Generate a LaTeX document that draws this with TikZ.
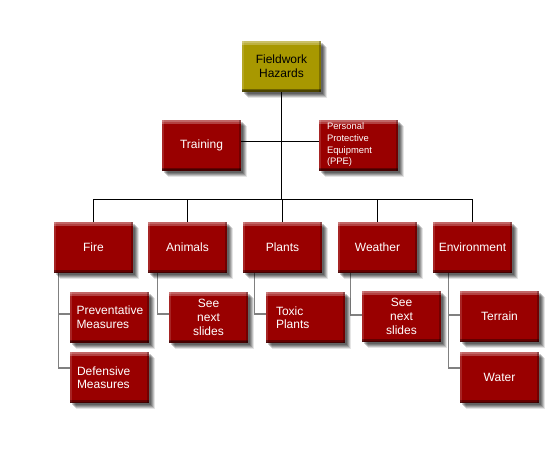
\documentclass[tikz,border=0pt]{standalone}
\usepackage{fontspec}
\setmainfont{Liberation Sans}
\usetikzlibrary{shadows}
\definecolor{boxred}{RGB}{153,0,0}
\definecolor{boxolive}{RGB}{168,152,0}
\definecolor{subgray}{RGB}{128,128,128}
\pgfdeclarelayer{background}
\pgfsetlayers{background,main}
\tikzset{
  bevelbox/.style={rectangle, minimum width=79pt, minimum height=51pt, inner sep=0pt,
    fill=boxred, text=white, font=\fontsize{12}{13.5}\selectfont, align=center,
    general shadow={fill=black,opacity=.2,shadow xshift=2pt,shadow yshift=-2pt},
    general shadow={fill=black,opacity=.2,shadow xshift=3pt,shadow yshift=-3pt},
    general shadow={fill=black,opacity=.18,shadow xshift=4pt,shadow yshift=-4pt},
    general shadow={fill=black,opacity=.16,shadow xshift=5pt,shadow yshift=-5pt},
    general shadow={fill=black,opacity=.10,shadow xshift=6pt,shadow yshift=-6pt},
    path picture={
      \fill[white,opacity=.25] (path picture bounding box.north west) rectangle ([yshift=-4pt]path picture bounding box.north east);
      \fill[white,opacity=.2] (path picture bounding box.north west) rectangle ([yshift=-2pt]path picture bounding box.north east);
      \fill[white,opacity=.14] (path picture bounding box.north west) rectangle ([xshift=2pt]path picture bounding box.south west);
      \fill[black,opacity=.25] ([xshift=-2pt]path picture bounding box.north east) rectangle (path picture bounding box.south east);
      \fill[black,opacity=.35] ([yshift=3pt]path picture bounding box.south west) rectangle (path picture bounding box.south east);
      \fill[black,opacity=.3] ([yshift=1.5pt]path picture bounding box.south west) rectangle (path picture bounding box.south east);
    }},
  rootbox/.style={bevelbox, fill=boxolive, text=black},
  leftbox/.style={bevelbox, align=left, text width=#1},
  smallbox/.style={bevelbox, align=left, text width=63pt, font=\fontsize{9.4}{11.7}\selectfont},
  mainline/.style={draw=black, line width=1pt},
  subline/.style={draw=subgray, line width=1.3pt},
}
\begin{document}
\begin{tikzpicture}[x=1pt, y=-1pt]
\useasboundingbox (0,0) rectangle (550,450);
\begin{pgfonlayer}{background}
\fill[white] (0,0) rectangle (550,450);
\end{pgfonlayer}

\node[rootbox] (fh) at (281.5,66) {Fieldwork\\Hazards};
\node[bevelbox] (train) at (201.5,145) {Training};
\node[smallbox] (ppe) at (358.5,145) {Personal\\Protective\\Equipment\\(PPE)};

\node[bevelbox] (fire) at (93.5,247.5) {Fire};
\node[bevelbox] (animals) at (187.5,247.5) {Animals};
\node[bevelbox] (plants) at (282.5,247.5) {Plants};
\node[bevelbox] (weather) at (377.5,247.5) {Weather};
\node[bevelbox] (env) at (472.5,247.5) {Environment};

\node[leftbox=66pt] (prev) at (109.5,317) {Preventative\\Measures};
\node[leftbox=65pt] (def) at (109.5,377.5) {Defensive\\Measures};
\node[bevelbox, font=\fontsize{12}{14}\selectfont] (anch) at (208.5,317) {See\\next\\slides};
\node[leftbox=59pt] (toxic) at (305.5,317.5) {Toxic\\Plants};
\node[bevelbox, font=\fontsize{12}{14}\selectfont] (wch) at (401.5,316.5) {See\\next\\slides};
\node[bevelbox] (terrain) at (499.5,316.5) {Terrain};
\node[bevelbox] (water) at (499.5,377.5) {Water};

\coordinate (bus) at (281.5,199);

\begin{pgfonlayer}{background}
\draw[mainline] (fh.south) -- (bus);
\draw[mainline] ([yshift=4pt]train.east) -- ([yshift=4pt]ppe.west);
\draw[mainline] (fire.north) |- (bus);
\draw[mainline] (env.north) |- (bus);
\draw[mainline] (animals.north) -- (animals.north |- bus);
\draw[mainline] (plants.north) -- (plants.north |- bus);
\draw[mainline] (weather.north) -- (weather.north |- bus);

\draw[subline] ([xshift=-11.5pt]prev.west |- fire.south) |- ([yshift=3pt]prev.west);
\draw[subline] ([xshift=-11.5pt]def.west |- fire.south) |- ([yshift=9.5pt]def.west);
\draw[subline] ([xshift=-11.5pt]anch.west |- animals.south) |- ([yshift=3pt]anch.west);
\draw[subline] ([xshift=-11.5pt]toxic.west |- plants.south) |- ([yshift=3.5pt]toxic.west);
\draw[subline] ([xshift=-11.5pt]wch.west |- weather.south) |- ([yshift=1.5pt]wch.west);
\draw[subline] ([xshift=-11.5pt]terrain.west |- env.south) |- ([yshift=1.5pt]terrain.west);
\draw[subline] ([xshift=-11.5pt]water.west |- env.south) |- ([yshift=9.5pt]water.west);
\end{pgfonlayer}
\end{tikzpicture}
\end{document}
